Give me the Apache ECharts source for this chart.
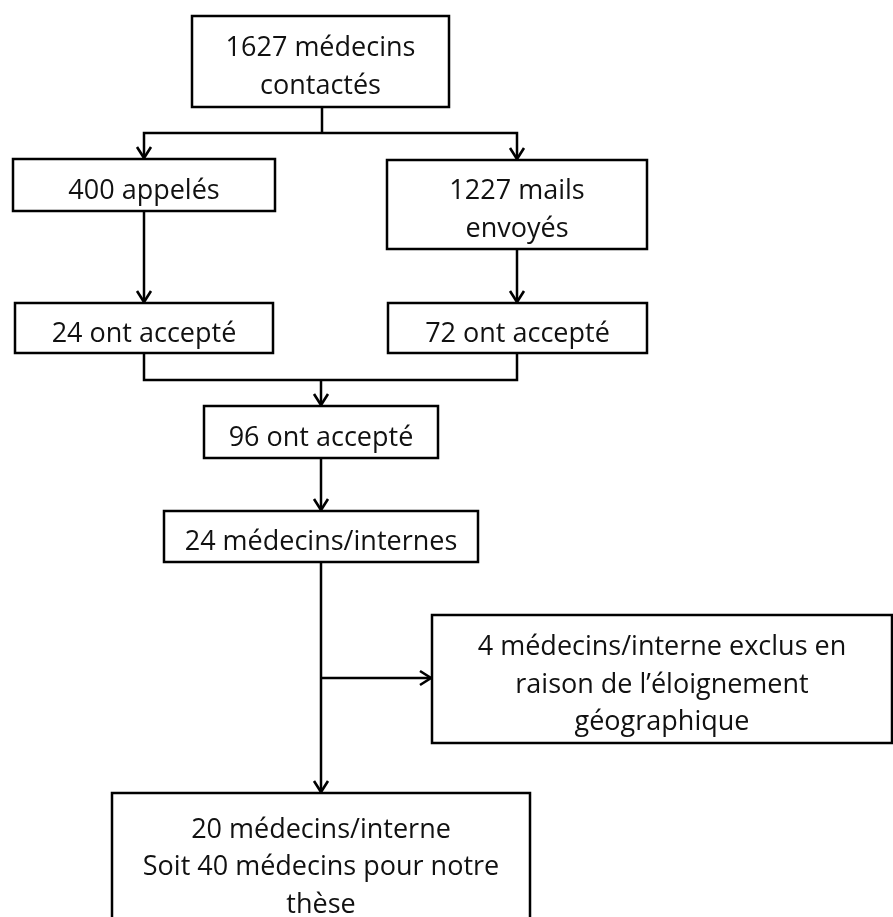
<!DOCTYPE html>
<html>
<head>
<meta charset="utf-8">
<script src="https://cdn.jsdelivr.net/npm/echarts@6/dist/echarts.min.js"></script>
<style>html,body{margin:0;padding:0;background:#fff}#chart{width:893px;height:917px}</style>
</head>
<body>
<div id="chart"></div>
<script>
// Flowchart texts
const nodeLabels = [
  "1627 médecins\ncontactés",
  "400 appelés",
  "1227 mails\nenvoyés",
  "24 ont accepté",
  "72 ont accepté",
  "96 ont accepté",
  "24 médecins/internes",
  "4 médecins/interne exclus en\nraison de l’éloignement\ngéographique",
  "20 médecins/interne\nSoit 40 médecins pour notre\nthèse"
];
// Box layout in diagram units: [left, top, right, bottom]
const nodeBoxes = [
  [192, 16, 449, 107],
  [13, 159, 275, 211],
  [387, 160, 647, 249],
  [15, 303, 273, 353],
  [388, 303, 647, 353],
  [204, 406, 438, 458],
  [164, 511, 478, 562],
  [432, 615, 892, 743],
  [112, 793, 530, 930]
];
// Connector paths in diagram units, arrow at the end when flagged
const connectorPaths = [
  [[322, 107], [322, 133]],
  [[322, 133], [144, 133], [144, 159]],
  [[322, 133], [517, 133], [517, 160]],
  [[144, 211], [144, 303]],
  [[517, 249], [517, 303]],
  [[144, 353], [144, 380], [517, 380], [517, 353]],
  [[321, 380], [321, 406]],
  [[321, 458], [321, 511]],
  [[321, 562], [321, 793]],
  [[321, 678], [432, 678]]
];
const connectorArrows = [false, true, true, true, true, false, true, true, true, true];

const chart = echarts.init(document.getElementById('chart'), null, {renderer: 'canvas'});
const FONT = '"Open Sans", sans-serif';
const TEXT_SHIFT = 6;

function boxItem(params, api) {
  const i = api.value(2);
  const b = nodeBoxes[i];
  const p0 = api.coord([b[0], b[1]]);
  const p1 = api.coord([b[2], b[3]]);
  const x = Math.min(p0[0], p1[0]), y = Math.min(p0[1], p1[1]);
  const w = Math.abs(p1[0] - p0[0]), h = Math.abs(p1[1] - p0[1]);
  return {
    type: 'group',
    children: [
      {type: 'rect', shape: {x: x, y: y, width: w, height: h},
       style: {fill: '#fff', stroke: '#000', lineWidth: 2.5}},
      {type: 'text', x: x + w / 2, y: y + h / 2 + TEXT_SHIFT,
       style: {text: nodeLabels[i], align: 'center', verticalAlign: 'middle',
               font: '27px ' + FONT, fill: '#111', lineHeight: 37.5}}
    ]
  };
}

function connectorItem(params, api) {
  const i = api.value(2);
  const pts = connectorPaths[i].map(p => api.coord(p));
  const children = [
    {type: 'polyline', shape: {points: pts},
     style: {stroke: '#000', lineWidth: 2.5, fill: null}}
  ];
  if (connectorArrows[i]) {
    const a = pts[pts.length - 2], b = pts[pts.length - 1];
    const dx = b[0] - a[0], dy = b[1] - a[1];
    const L = Math.sqrt(dx * dx + dy * dy);
    const ux = dx / L, uy = dy / L, nx = -uy, ny = ux;
    const len = 12, half = 7;
    children.push({type: 'polyline',
      shape: {points: [
        [b[0] - ux * len + nx * half, b[1] - uy * len + ny * half],
        [b[0] - ux * 1, b[1] - uy * 1],
        [b[0] - ux * len - nx * half, b[1] - uy * len - ny * half]
      ]},
      style: {stroke: '#000', lineWidth: 2.6, fill: null, lineJoin: 'miter'}});
  }
  return {type: 'group', children: children};
}

chart.setOption({
  animation: false,
  grid: {left: 0, right: 0, top: 0, bottom: 0},
  xAxis: {type: 'value', min: 0, max: 893, show: false},
  yAxis: {type: 'value', min: 0, max: 917, inverse: true, show: false},
  series: [
    {type: 'custom', clip: false, renderItem: connectorItem, z: 1,
     data: connectorPaths.map((p, i) => [p[0][0], p[0][1], i])},
    {type: 'custom', clip: false, renderItem: boxItem, z: 2,
     data: nodeBoxes.map((b, i) => [b[0], b[1], i])}
  ]
});
</script>
</body>
</html>
